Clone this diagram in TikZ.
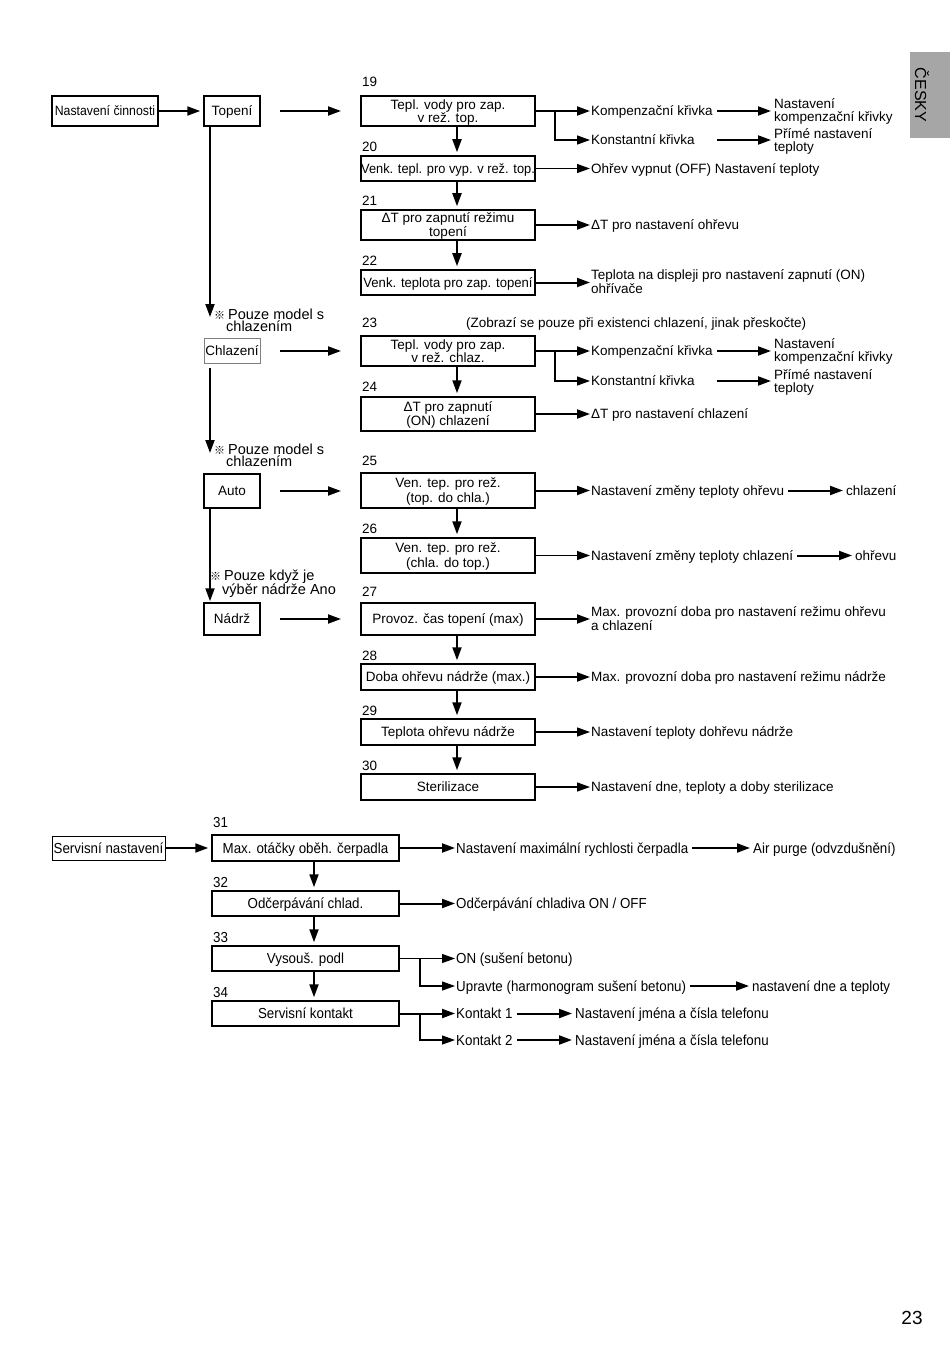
\documentclass[tikz,border=0pt]{standalone}
\usepackage{fontspec}
\setmainfont{Liberation Sans}
\newfontfamily\narf[FakeStretch=0.92]{Liberation Sans}
\newfontfamily\sA[FakeStretch=0.91]{Liberation Sans}
\newfontfamily\sB[FakeStretch=0.95]{Liberation Sans}
\newfontfamily\sC[FakeStretch=0.97]{Liberation Sans}
\newfontfamily\cjkf{Noto Sans CJK JP}
\usetikzlibrary{arrows.meta}
\newcommand\fs{\fontsize{13.5pt}{13pt}\selectfont}
\newcommand\fb{\narf\fontsize{14.5pt}{14pt}\selectfont}
\newcommand\fn{\fontsize{14.5pt}{12pt}\selectfont}
\newcommand\refm{{\cjkf\fontsize{11pt}{11pt}\selectfont ※}}
\newcommand\twol[3][13pt]{\vtop{\baselineskip=#1\relax\hbox{#2}\hbox{#3}}}
\newcommand\twoc[3][13pt]{\vtop{\baselineskip=#1\relax\halign{\hfil##\hfil\cr#2\cr#3\cr}}}
\definecolor{tabgray}{HTML}{A6A6A6}
\tikzset{
 box/.style={draw, line width=1.5pt, inner sep=0pt, align=center, font=\fs},
 box1/.style={box, text height=9.6pt, text depth=0pt},
 box2/.style={box, text height=9.6pt, text depth=#1},
 lbl/.style={inner sep=0pt, anchor=west, text height=9.6pt, text depth=0pt, font=\fs},
 lbb/.style={lbl, font=\fb, text height=10.4pt},
 ar/.style={line width=2pt, ->, shorten >=1pt},
 arn/.style={line width=1.3pt, ->, shorten >=1pt},
 sec/.style={ar, shorten <=4pt, shorten >=3pt},
}
\begin{document}
\begin{tikzpicture}[x=1pt,y=-1pt,>={Triangle[length=13pt,width=9pt]}]
\useasboundingbox (0,0) rectangle (950,1348);
% side tab and page number
\fill[tabgray] (910,52) rectangle (950,138);
\node[rotate=-90, inner sep=0pt, font=\fontsize{16pt}{16pt}\selectfont] (tab) at (922,95) {ČESKY};
\node[inner sep=0pt, font=\fontsize{19pt}{19pt}\selectfont] (pg) at (912,1318) {23};

% ---------- left column ----------
\node[box1, font=\sA\fs, minimum width=106pt, minimum height=30pt] (nc) at (105,111) {Nastavení činnosti};
\node[box1, minimum width=56pt, minimum height=30pt] (top) at (232,111) {Topení};
\node[box1, draw=gray, line width=0.8pt, minimum width=56pt, minimum height=25pt] (chl) at (232,350.5) {Chlazení};
\node[box1, minimum width=56pt, minimum height=34pt] (auto) at (232,491) {Auto};
\node[box1, minimum width=56pt, minimum height=32pt] (ndr) at (232,619) {Nádrž};
\draw[ar, shorten >=3pt] (nc) -- (top);

\coordinate (v1e) at (210,318);
\draw[ar] (top.south -| v1e) -- (v1e);
\coordinate (v2s) at (210,368);
\coordinate (v2e) at (210,454);
\draw[ar] (v2s) -- (v2e);
\draw[ar] (auto.south -| v2e) -- (ndr.north -| v2e);

\node[lbl, font=\fn] (note1) at (214,315) {\twol[12pt]{\refm\kern3pt Pouze model s}{\kern12pt chlazením}};
\node[lbl, font=\fn] (note2) at (214,450) {\twol[12pt]{\refm\kern3pt Pouze model s}{\kern12pt chlazením}};
\node[lbl, font=\fn] (note3) at (210,576) {\twol[14pt]{\refm\kern3pt Pouze když je}{\kern12pt výběr nádrže Ano}};

% free arrows towards the middle column
\foreach \yy/\nm in {111/a,351/b,491/c,619/d}{
  \coordinate (fs\nm) at (280,\yy);
  \coordinate (fe\nm) at (342,\yy);
  \draw[ar] (fs\nm) -- (fe\nm);
}

% ---------- middle column ----------
\node[lbl] (l19) at (362,82) {19};
\node[lbl] (l20) at (362,147) {20};
\node[lbl] (l21) at (362,201) {21};
\node[lbl] (l22) at (362,261) {22};
\node[lbl] (l23) at (362,323) {23};
\node[lbl] (l24) at (362,387) {24};
\node[lbl] (l25) at (362,461) {25};
\node[lbl] (l26) at (362,529) {26};
\node[lbl] (l27) at (362,592) {27};
\node[lbl] (l28) at (362,656) {28};
\node[lbl] (l29) at (362,711) {29};
\node[lbl] (l30) at (362,766) {30};
\node[lbl] (n23) at (466,323) {(Zobrazí se pouze při existenci chlazení, jinak přeskočte)};

\node[box2=13pt, minimum width=174pt, minimum height=30pt] (b19) at (448,111) {\twoc{Tepl. vody pro zap.}{v rež. top.}};
\node[box1, font=\sB\fs, minimum width=174pt, minimum height=25pt] (b20) at (448,168.5) {Venk. tepl. pro vyp. v rež. top.};
\node[box2=14pt, minimum width=174pt, minimum height=30pt] (b21) at (448,225) {\twoc[14pt]{ΔT pro zapnutí režimu}{topení}};
\node[box1, font=\sC\fs, minimum width=174pt, minimum height=25pt] (b22) at (448,282.5) {Venk. teplota pro zap. topení};
\node[box2=13pt, minimum width=174pt, minimum height=30pt] (b23) at (448,351) {\twoc{Tepl. vody pro zap.}{v rež. chlaz.}};
\node[box2=14pt, minimum width=174pt, minimum height=34pt] (b24) at (448,414) {\twoc[14pt]{ΔT pro zapnutí}{(ON) chlazení}};
\node[box2=15pt, minimum width=174pt, minimum height=35pt] (b25) at (448,490.5) {\twoc[15pt]{Ven. tep. pro rež.}{(top. do chla.)}};
\node[box2=15pt, minimum width=174pt, minimum height=35pt] (b26) at (448,555.5) {\twoc[15pt]{Ven. tep. pro rež.}{(chla. do top.)}};
\node[box1, minimum width=174pt, minimum height=32pt] (b27) at (448,619) {Provoz. čas topení (max)};
\node[box1, minimum width=174pt, minimum height=26pt] (b28) at (448,677) {Doba ohřevu nádrže (max.)};
\node[box1, minimum width=174pt, minimum height=26pt] (b29) at (448,732) {Teplota ohřevu nádrže};
\node[box1, minimum width=174pt, minimum height=26pt] (b30) at (448,787) {Sterilizace};

\coordinate (xa) at (457,0);
\foreach \p/\q in {b19/b20,b20/b21,b21/b22,b23/b24,b25/b26,b27/b28,b28/b29,b29/b30}{
  \draw[ar, shorten >=3pt] (\p.south -| xa) -- (\q.north -| xa);
}

% ---------- right column ----------
\node[lbl] (k19a) at (591,111) {Kompenzační křivka};
\node[lbl] (k19b) at (591,140) {Konstantní křivka};
\node[lbl] (m19a) at (774,104) {\twol{Nastavení}{kompenzační křivky}};
\node[lbl] (m19b) at (774,134) {\twol{Přímé nastavení}{teploty}};
\node[lbl] (r20) at (591,168.5) {Ohřev vypnut (OFF) Nastavení teploty};
\node[lbl] (r21) at (591,225) {ΔT pro nastavení ohřevu};
\node[lbl] (r22) at (591,275) {\twol[14pt]{Teplota na displeji pro nastavení zapnutí (ON)}{ohřívače}};
\node[lbl] (k23a) at (591,351) {Kompenzační křivka};
\node[lbl] (k23b) at (591,381) {Konstantní křivka};
\node[lbl] (m23a) at (774,344) {\twol{Nastavení}{kompenzační křivky}};
\node[lbl] (m23b) at (774,375) {\twol{Přímé nastavení}{teploty}};
\node[lbl] (r24) at (591,414) {ΔT pro nastavení chlazení};
\node[lbl] (r25) at (591,490.5) {Nastavení změny teploty ohřevu};
\node[lbl] (r25b) at (846,490.5) {chlazení};
\node[lbl] (r26) at (591,555.5) {Nastavení změny teploty chlazení};
\node[lbl] (r26b) at (855,555.5) {ohřevu};
\node[lbl] (r27) at (591,612) {\twol[14pt]{Max. provozní doba pro nastavení režimu ohřevu}{a chlazení}};
\node[lbl] (r28) at (591,677) {Max. provozní doba pro nastavení režimu nádrže};
\node[lbl] (r29) at (591,732) {Nastavení teploty dohřevu nádrže};
\node[lbl] (r30) at (591,787) {Nastavení dne, teploty a doby sterilizace};

\draw[ar] (b19.east) -- (b19.east -| k19a.west);
\coordinate (j19) at (555,111);
\draw[arn] (j19) |- (k19b.west);
\draw[sec] (k19a.east) -- (k19a.east -| m19a.west);
\draw[sec] (k19b.east -| k19a.east) -- (k19b.east -| m19b.west);
\draw[arn] (b20.east) -- (b20.east -| r20.west);
\draw[ar] (b21.east) -- (b21.east -| r21.west);
\draw[ar] (b22.east) -- (b22.east -| r22.west);
\draw[ar] (b23.east) -- (b23.east -| k23a.west);
\coordinate (j23) at (555,351);
\draw[arn] (j23) |- (k23b.west);
\draw[sec] (k23a.east) -- (k23a.east -| m23a.west);
\draw[sec] (k23b.east -| k23a.east) -- (k23b.east -| m23b.west);
\draw[ar] (b24.east) -- (b24.east -| r24.west);
\draw[ar] (b25.east) -- (b25.east -| r25.west);
\draw[sec] (r25.east) -- (r25.east -| r25b.west);
\draw[arn] (b26.east) -- (b26.east -| r26.west);
\draw[sec] (r26.east) -- (r26.east -| r26b.west);
\draw[ar] (b27.east) -- (b27.east -| r27.west);
\draw[ar] (b28.east) -- (b28.east -| r28.west);
\draw[arn] (b29.east) -- (b29.east -| r29.west);
\draw[arn] (b30.east) -- (b30.east -| r30.west);

% ---------- service section ----------
\node[box1, line width=1pt, font=\fb, text height=10.4pt, minimum width=113pt, minimum height=24pt] (sn) at (108.5,848) {Servisní nastavení};
\node[box1, font=\fb, text height=10.4pt, minimum width=187pt, minimum height=26pt] (b31) at (305.5,848) {Max. otáčky oběh. čerpadla};
\node[box1, font=\fb, text height=10.4pt, minimum width=187pt, minimum height=25pt] (b32) at (305.5,903.5) {Odčerpávání chlad.};
\node[box1, font=\fb, text height=10.4pt, minimum width=187pt, minimum height=25pt] (b33) at (305.5,958.5) {Vysouš. podl};
\node[box1, font=\fb, text height=10.4pt, minimum width=187pt, minimum height=25pt] (b34) at (305.5,1013.5) {Servisní kontakt};
\node[lbb] (l31) at (213,822) {31};
\node[lbb] (l32) at (213,882) {32};
\node[lbb] (l33) at (213,937) {33};
\node[lbb] (l34) at (213,992) {34};
\draw[ar, shorten >=3pt] (sn) -- (b31);
\coordinate (xb) at (314,0);
\foreach \p/\q in {b31/b32,b32/b33,b33/b34}{
  \draw[ar, shorten >=3pt] (\p.south -| xb) -- (\q.north -| xb);
}

\node[lbb] (s31) at (456,848) {Nastavení maximální rychlosti čerpadla};
\node[lbb] (s31b) at (753,848) {Air purge (odvzdušnění)};
\node[lbb] (s32) at (456,903.5) {Odčerpávání chladiva ON / OFF};
\node[lbb] (s33a) at (456,958.5) {ON (sušení betonu)};
\node[lbb] (s33b) at (456,986) {Upravte (harmonogram sušení betonu)};
\node[lbb] (s33c) at (752,986) {nastavení dne a teploty};
\node[lbb] (s34a) at (456,1013.5) {Kontakt 1};
\node[lbb] (s34b) at (575,1013.5) {Nastavení jména a čísla telefonu};
\node[lbb] (s34c) at (456,1040) {Kontakt 2};
\node[lbb] (s34d) at (575,1040) {Nastavení jména a čísla telefonu};

\draw[ar] (b31.east) -- (b31.east -| s31.west);
\draw[sec] (s31.east) -- (s31.east -| s31b.west);
\draw[ar] (b32.east) -- (b32.east -| s32.west);
\draw[arn] (b33.east) -- (b33.east -| s33a.west);
\coordinate (j33) at (420,958.5);
\draw[arn] (j33) |- (s33b.west);
\draw[sec] (s33b.east) -- (s33b.east -| s33c.west);
\draw[ar] (b34.east) -- (b34.east -| s34a.west);
\coordinate (j34) at (420,1013.5);
\draw[arn] (j34) |- (s34c.west);
\draw[sec] (s34a.east) -- (s34a.east -| s34b.west);
\draw[sec] (s34c.east) -- (s34c.east -| s34d.west);
\end{tikzpicture}
\end{document}
